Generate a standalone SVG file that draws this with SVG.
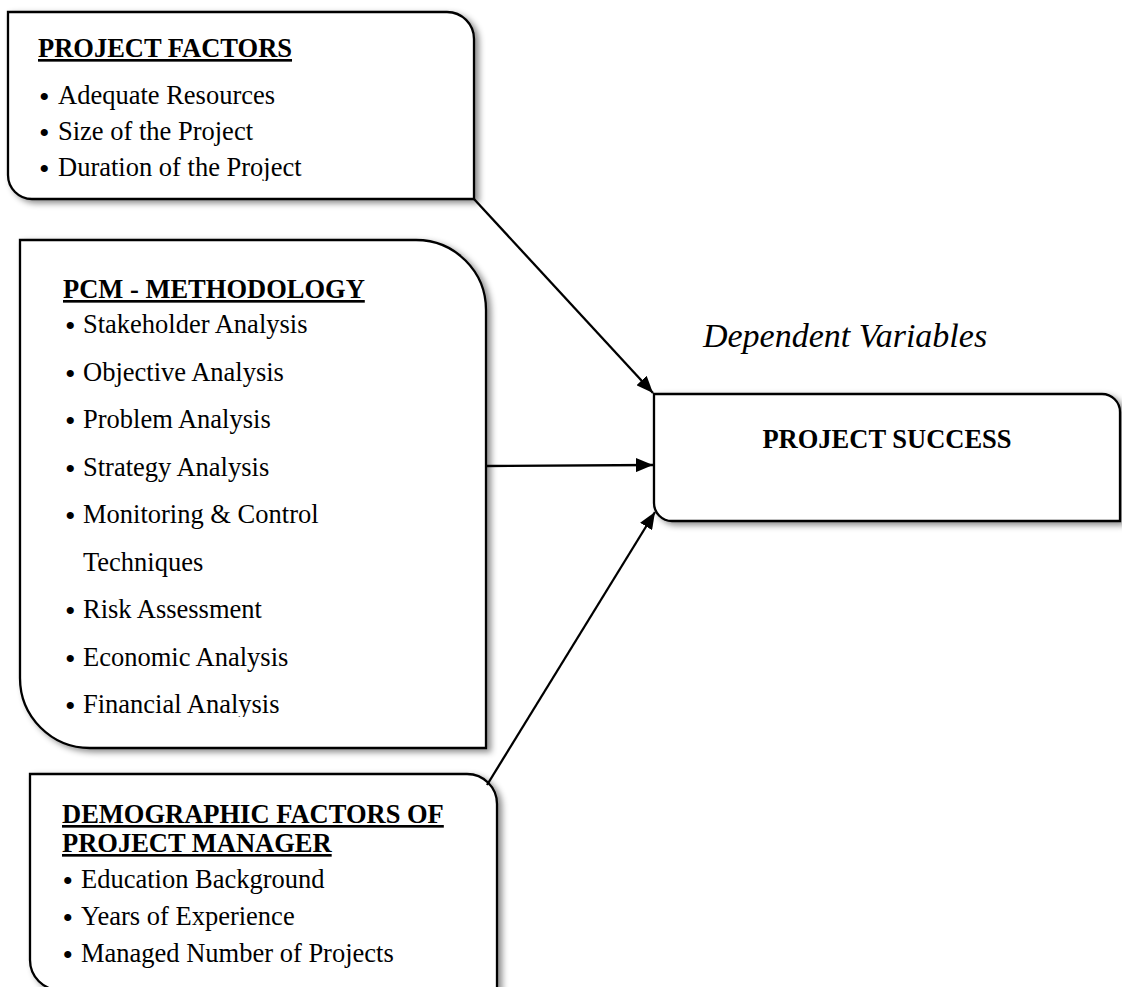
<svg xmlns="http://www.w3.org/2000/svg" width="1122" height="987" viewBox="0 0 1122 987">
<style>
.box{fill:#fff;stroke:#000;stroke-width:2.3;filter:url(#sh)}
.t{font-family:"Liberation Serif","Times New Roman",serif;font-size:26.5px;fill:#000}
.h{font-weight:bold;text-decoration:underline}
.bl{font-family:"Liberation Serif","Times New Roman",serif;font-size:30px;fill:#000}
.dv{font-size:34px;font-style:italic}
.c{stroke:#000;stroke-width:2.3;fill:none;marker-end:url(#ah)}
</style>
<defs>
<filter id="sh" x="-5%" y="-5%" width="115%" height="120%">
<feDropShadow dx="4" dy="3" stdDeviation="3" flood-color="#000" flood-opacity="0.45"/>
</filter>
<marker id="ah" markerUnits="userSpaceOnUse" markerWidth="18" markerHeight="14" refX="17" refY="7" orient="auto">
<path d="M0,0 L17,7 L0,14 Z" fill="#000"/>
</marker>
<clipPath id="cp1"><rect x="8" y="12" width="466" height="169"/></clipPath>
<clipPath id="cp2"><rect x="20" y="240" width="466" height="477"/></clipPath>
</defs>
<rect width="1122" height="987" fill="#fff"/>

<g id="project-factors">
<path class="box" d="M8,12 H447 A27,27 0 0 1 474,39 V199 H32 A24,24 0 0 1 8,175 Z"/>
<g class="bl">
<text x="39" y="107">•</text><text x="39" y="143">•</text><text x="39" y="179">•</text>
</g>
<g class="t" clip-path="url(#cp1)">
<text class="h" x="38" y="57">PROJECT FACTORS</text>
<text x="58" y="104">Adequate Resources</text>
<text x="58" y="140">Size of the Project</text>
<text x="58" y="176">Duration of the Project</text>
</g>
</g>

<g id="pcm-methodology">
<path class="box" d="M20,240 H416 A70,70 0 0 1 486,310 V748 H90 A70,70 0 0 1 20,678 Z"/>
<g class="bl">
<text x="65" y="336">•</text><text x="65" y="383.5">•</text><text x="65" y="431">•</text>
<text x="65" y="478.5">•</text><text x="65" y="526">•</text><text x="65" y="621">•</text>
<text x="65" y="668.5">•</text><text x="65" y="716">•</text>
</g>
<g class="t" clip-path="url(#cp2)">
<text class="h" x="63" y="298">PCM - METHODOLOGY</text>
<text x="83" y="333">Stakeholder Analysis</text>
<text x="83" y="380.5">Objective Analysis</text>
<text x="83" y="428">Problem Analysis</text>
<text x="83" y="475.5">Strategy Analysis</text>
<text x="83" y="523">Monitoring &amp; Control</text>
<text x="83" y="570.5">Techniques</text>
<text x="83" y="618">Risk Assessment</text>
<text x="83" y="665.5">Economic Analysis</text>
<text x="83" y="713">Financial Analysis</text>
</g>
</g>

<g id="demographic-factors">
<path class="box" d="M30,774 H467 A30,30 0 0 1 497,804 V990 H60 A30,30 0 0 1 30,960 Z"/>
<g class="bl">
<text x="62.4" y="891">•</text><text x="62.4" y="928">•</text><text x="62.4" y="965">•</text>
</g>
<g class="t">
<text class="h" x="62" y="823">DEMOGRAPHIC FACTORS OF</text>
<text class="h" x="62" y="852">PROJECT MANAGER</text>
<text x="81" y="888">Education Background</text>
<text x="81" y="925">Years of Experience</text>
<text x="81" y="962">Managed Number of Projects</text>
</g>
</g>

<g id="project-success">
<path class="box" d="M654,394 H1102 A18,18 0 0 1 1120,412 V521 H672 A18,18 0 0 1 654,503 Z"/>
<text class="t" x="887" y="448" text-anchor="middle" font-weight="bold">PROJECT SUCCESS</text>
</g>

<g id="label-dependent">
<text class="t dv" x="845" y="347" text-anchor="middle">Dependent Variables</text>
</g>

<g id="connectors">
<path class="c" d="M474,199 L653,393"/>
<path class="c" d="M486,466 L653,465"/>
<path class="c" d="M487,785 L655,512"/>
</g>
</svg>
